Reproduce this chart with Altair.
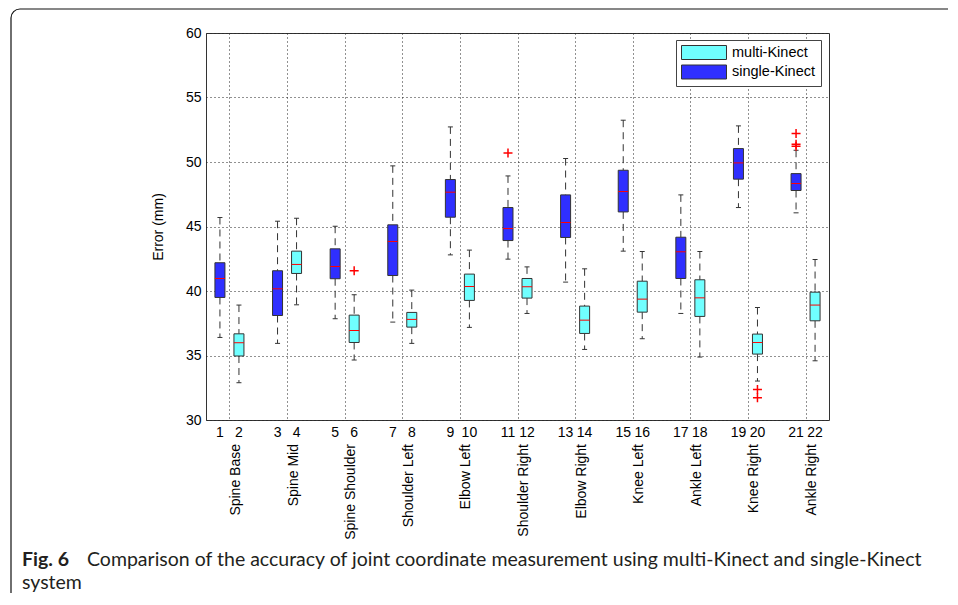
import altair as alt
import pandas as pd

joints = ["Spine Base", "Spine Mid", "Spine Shoulder", "Shoulder Left", "Elbow Left",
          "Shoulder Right", "Elbow Right", "Knee Left", "Ankle Left", "Knee Right", "Ankle Right"]

# single-Kinect (odd boxes 1,3,...,21)
single_lo  = [36.40, 35.94, 37.85, 37.59, 42.80, 42.47, 40.69, 43.09, 38.26, 46.47, 46.06]
single_q1  = [39.50, 38.10, 40.95, 41.20, 45.72, 43.91, 44.15, 46.13, 40.97, 48.67, 47.79]
single_med = [40.97, 40.17, 41.90, 43.84, 47.66, 44.84, 45.31, 47.71, 43.04, 49.93, 48.33]
single_q3  = [42.19, 41.57, 43.27, 45.13, 48.64, 46.47, 47.45, 49.36, 44.17, 51.04, 49.10]
single_hi  = [45.70, 45.41, 45.02, 49.70, 52.72, 48.92, 50.27, 53.24, 47.45, 52.80, 50.91]

# multi-Kinect (even boxes 2,4,...,22)
multi_lo  = [32.89, 38.93, 34.65, 35.94, 37.18, 38.26, 35.47, 36.30, 34.88, 33.02, 34.59]
multi_q1  = [34.96, 41.36, 36.01, 37.20, 39.27, 39.45, 36.71, 38.36, 38.03, 35.11, 37.69]
multi_med = [35.99, 42.06, 36.94, 37.80, 40.35, 40.33, 37.74, 39.37, 39.47, 36.01, 38.91]
multi_q3  = [36.68, 43.09, 38.13, 38.34, 41.31, 40.97, 38.83, 40.76, 40.87, 36.66, 39.91]
multi_hi  = [38.91, 45.64, 39.71, 40.07, 43.17, 41.87, 41.72, 43.06, 43.06, 38.72, 42.44]

outlier_box = [6, 11, 20, 20, 21, 21, 21]
outlier_val = [41.57, 50.70, 32.37, 31.73, 52.20, 51.38, 51.22]

systems = ["multi-Kinect", "single-Kinect"]
colors = ["#70ffff", "#2f2fff"]

OFF = 0.165
rows = []
for g, j in enumerate(joints):
    rows.append(dict(box=2 * g + 1, label=str(2 * g + 1), joint=j, system="single-Kinect", pos=g - OFF,
                     lo=single_lo[g], q1=single_q1[g], med=single_med[g], q3=single_q3[g], hi=single_hi[g]))
    rows.append(dict(box=2 * g + 2, label=str(2 * g + 2), joint=j, system="multi-Kinect", pos=g + OFF,
                     lo=multi_lo[g], q1=multi_q1[g], med=multi_med[g], q3=multi_q3[g], hi=multi_hi[g]))
boxes = pd.DataFrame(rows)
pos_of = dict(zip(boxes["box"], boxes["pos"]))
outliers = pd.DataFrame({"box": outlier_box, "val": outlier_val,
                         "pos": [pos_of[b] for b in outlier_box]})
multi_rows = boxes[boxes["system"] == "multi-Kinect"]
one = pd.DataFrame({"k": [0]})

FONT = "Liberation Sans"
CAP_FONT = "Lato"
xscale = alt.Scale(domain=[-0.32, 10.32], nice=False, zero=False)
yscale = alt.Scale(domain=[30, 60], nice=False, zero=False)
xaxis = alt.Axis(values=list(range(11)), grid=True, gridDash=[1, 3], gridColor="#222",
                 gridOpacity=1, labels=False, ticks=False, domain=False, title=None)
yaxis = alt.Axis(values=[30, 35, 40, 45, 50, 55, 60], grid=True, gridDash=[1, 3], gridColor="#222",
                 gridOpacity=1, ticks=False, tickSize=0, domain=False, labelFont=FONT,
                 labelFontSize=14, labelColor="#000", labelPadding=5, title="Error (mm)",
                 titleFont=FONT, titleFontSize=14, titleFontWeight="normal", titleColor="#000",
                 titlePadding=20)


def X(f):
    return alt.X(f, scale=xscale, axis=xaxis)


def Y(f):
    return alt.Y(f, scale=yscale, axis=yaxis)


base = alt.Chart(boxes)

whisk_up = base.mark_rule(strokeDash=[7, 5], color="#333", strokeWidth=1).encode(
    x=X("pos:Q"), y=Y("hi:Q"), y2="q3:Q")
whisk_dn = base.mark_rule(strokeDash=[7, 5], color="#333", strokeWidth=1).encode(
    x=X("pos:Q"), y=Y("q1:Q"), y2="lo:Q")
cap_up = base.mark_tick(orient="horizontal", size=5, thickness=1, color="#333", opacity=1).encode(
    x=X("pos:Q"), y=Y("hi:Q"))
cap_dn = base.mark_tick(orient="horizontal", size=5, thickness=1, color="#333", opacity=1).encode(
    x=X("pos:Q"), y=Y("lo:Q"))

legend = alt.Legend(orient="none", legendX=470, legendY=7, title=None,
                    symbolType="M-1,-1L5.43,-1L5.43,1L-1,1Z", symbolSize=196,
                    symbolStrokeColor="#333", symbolStrokeWidth=1, symbolOpacity=1,
                    labelFont=FONT, labelFontSize=14.5, labelColor="#000", labelOffset=36,
                    padding=5, rowPadding=0.5, strokeColor="#444", fillColor="#ffffff")

bars = base.mark_bar(size=10, stroke="#333", strokeWidth=1, opacity=1).encode(
    x=X("pos:Q"), y=Y("q1:Q"), y2="q3:Q",
    color=alt.Color("system:N", scale=alt.Scale(domain=systems, range=colors), legend=legend))

medians = base.mark_tick(orient="horizontal", size=10, thickness=1, color="#ff0000", opacity=1).encode(
    x=X("pos:Q"), y=Y("med:Q"))

outl = alt.Chart(outliers).mark_point(shape="M-1,0L1,0M0,-1L0,1", size=81, filled=False,
                                      color="#ff0000", strokeWidth=1.5, opacity=1).encode(
    x=X("pos:Q"), y=Y("val:Q"))

nums = base.mark_text(font=FONT, fontSize=14, baseline="middle", align="center", color="#000").encode(
    x=X("pos:Q"), y=alt.value(399.5), text="label:N")

names = alt.Chart(multi_rows).mark_text(font=FONT, fontSize=14, angle=270, align="right",
                                        baseline="alphabetic", dy=1, color="#000").encode(
    x=X("pos:Q"), y=alt.value(411), text="joint:N")

frame = alt.Chart(one).mark_rect(fillOpacity=0, stroke="#111", strokeWidth=1.2, cornerRadius=9).encode(
    x=alt.value(-195), x2=alt.value(780), y=alt.value(-24), y2=alt.value(600))

cap_bold = alt.Chart(one).mark_text(font=CAP_FONT, fontSize=19.5, fontWeight="bold", align="left",
                                    baseline="alphabetic", color="#231f20").encode(
    x=alt.value(-184), y=alt.value(533), text=alt.value("Fig. 6"))
cap_line1 = alt.Chart(one).mark_text(font=CAP_FONT, fontSize=19.5, align="left",
                                     baseline="alphabetic", color="#231f20").encode(
    x=alt.value(-119), y=alt.value(533),
    text=alt.value("Comparison of the accuracy of joint coordinate measurement using multi-Kinect and single-Kinect"))
cap_line2 = alt.Chart(one).mark_text(font=CAP_FONT, fontSize=19.5, align="left",
                                     baseline="alphabetic", color="#231f20").encode(
    x=alt.value(-184), y=alt.value(556), text=alt.value("system"))

chart = alt.layer(
    frame, whisk_up, whisk_dn, cap_up, cap_dn, bars, medians, outl, nums, names,
    cap_bold, cap_line1, cap_line2
).properties(
    width=623, height=387,
    autosize=alt.AutoSizeParams(type="none"),
    padding={"left": 198, "top": 25, "right": 119, "bottom": 173},
).configure_view(stroke="#333", strokeWidth=1)

chart.save("out.html", embed_options={"renderer": "svg", "actions": False})
